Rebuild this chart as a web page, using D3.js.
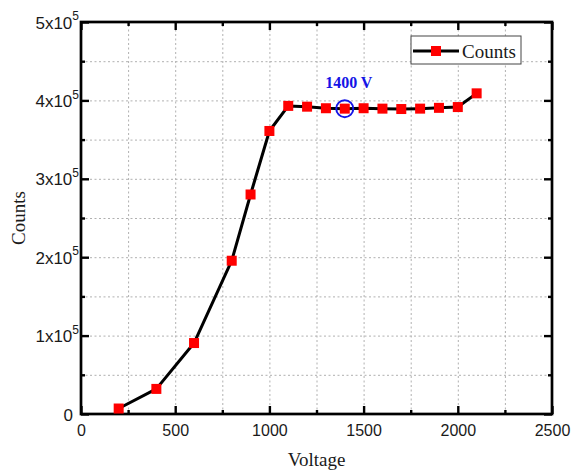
<!DOCTYPE html>
<html>
<head>
<meta charset="utf-8">
<script src="https://cdn.jsdelivr.net/npm/d3@7"></script>
<style>
  html, body { margin: 0; padding: 0; background: #fff; }
  svg { display: block; }
  .grid line { stroke: #b0b0b0; stroke-width: 1; stroke-dasharray: 2,2.5; }
  .grid path { display: none; }
  .ax path { display: none; }
  .ax line { stroke: #000; stroke-width: 2.4; }
  .ax text { font-family: "Liberation Sans", Arial, sans-serif; font-size: 16px; fill: #1a1a1a; }
  .ylab text { font-size: 17px; }
</style>
</head>
<body>
<svg id="chart" width="571" height="472"></svg>
<script>
// Measured counts versus applied voltage
const voltages = [200, 400, 600, 800, 900, 1000, 1100, 1200, 1300, 1400, 1500, 1600, 1700, 1800, 1900, 2000, 2100];
const counts   = [7000, 32000, 90500, 195500, 280000, 361000, 393000, 392000, 390000, 389500, 390000, 389500, 389000, 389500, 390500, 391500, 409000];

const xMajorTicks = [0, 500, 1000, 1500, 2000, 2500];
const xMinorTicks = [250, 750, 1250, 1750, 2250];
const yMajorTicks = [0, 100000, 200000, 300000, 400000, 500000];
const yMinorTicks = [50000, 150000, 250000, 350000, 450000];
const yTickLabels = [["0", ""], ["1x10", "5"], ["2x10", "5"], ["3x10", "5"], ["4x10", "5"], ["5x10", "5"]];

const highlightVoltage = 1400;
const highlightLabel = "1400 V";
const seriesName = "Counts";

const svg = d3.select("#chart");
const pL = 81, pR = 552, pT = 22, pB = 414;

const x = d3.scaleLinear().domain([0, 2500]).range([pL, pR]);
const y = d3.scaleLinear().domain([0, 500000]).range([pB, pT]);

// dotted grid at every major and minor tick
const gridX = [...xMajorTicks, ...xMinorTicks].filter(v => v > 0 && v < 2500);
const gridY = [...yMajorTicks, ...yMinorTicks].filter(v => v > 0 && v < 500000);
svg.append("g").attr("class", "grid")
  .attr("transform", `translate(0,${pB})`)
  .call(d3.axisBottom(x).tickValues(gridX).tickSize(-(pB - pT)).tickFormat(""));
svg.append("g").attr("class", "grid")
  .attr("transform", `translate(${pL},0)`)
  .call(d3.axisLeft(y).tickValues(gridY).tickSize(-(pR - pL)).tickFormat(""));

// bottom axis: inward ticks with labels
svg.append("g").attr("class", "ax")
  .attr("transform", `translate(0,${pB})`)
  .call(d3.axisBottom(x).tickValues(xMajorTicks).tickSize(-8).tickPadding(11).tickFormat(d3.format("d")));
svg.append("g").attr("class", "ax")
  .attr("transform", `translate(0,${pB})`)
  .call(d3.axisBottom(x).tickValues(xMinorTicks).tickSize(-4).tickFormat(""));

// top axis: ticks only
svg.append("g").attr("class", "ax")
  .attr("transform", `translate(0,${pT})`)
  .call(d3.axisTop(x).tickValues(xMajorTicks).tickSize(-8).tickFormat(""));
svg.append("g").attr("class", "ax")
  .attr("transform", `translate(0,${pT})`)
  .call(d3.axisTop(x).tickValues(xMinorTicks).tickSize(-4).tickFormat(""));

// left axis with scientific labels
const yAxisG = svg.append("g").attr("class", "ax ylab")
  .attr("transform", `translate(${pL},0)`)
  .call(d3.axisLeft(y).tickValues(yMajorTicks).tickSize(-8).tickPadding(2).tickFormat(""));
yAxisG.selectAll(".tick text").each(function(d, i) {
  const t = d3.select(this).attr("dy", "0.36em");
  const [base, sup] = yTickLabels[i];
  t.append("tspan").text(base);
  if (sup) t.append("tspan").attr("font-size", "12px").attr("dy", "-0.7em").text(sup);
  else t.attr("dx", -6);
});
svg.append("g").attr("class", "ax")
  .attr("transform", `translate(${pL},0)`)
  .call(d3.axisLeft(y).tickValues(yMinorTicks).tickSize(-4).tickFormat(""));

// right axis: ticks only
svg.append("g").attr("class", "ax")
  .attr("transform", `translate(${pR},0)`)
  .call(d3.axisRight(y).tickValues(yMajorTicks).tickSize(-8).tickFormat(""));
svg.append("g").attr("class", "ax")
  .attr("transform", `translate(${pR},0)`)
  .call(d3.axisRight(y).tickValues(yMinorTicks).tickSize(-4).tickFormat(""));

// frame
svg.append("rect")
  .attr("x", pL).attr("y", pT)
  .attr("width", pR - pL).attr("height", pB - pT)
  .attr("fill", "none").attr("stroke", "#000").attr("stroke-width", 2.7);

// axis titles
svg.append("text")
  .attr("x", (pL + pR) / 2).attr("y", 466)
  .attr("text-anchor", "middle")
  .attr("font-family", "'Liberation Serif', 'Times New Roman', serif")
  .attr("font-size", 19).attr("fill", "#1a1a1a")
  .text("Voltage");
svg.append("text")
  .attr("transform", `translate(25,${(pT + pB) / 2}) rotate(-90)`)
  .attr("text-anchor", "middle")
  .attr("font-family", "'Liberation Serif', 'Times New Roman', serif")
  .attr("font-size", 19).attr("fill", "#1a1a1a")
  .text("Counts");

// data line and markers
const pts = voltages.map((v, i) => [v, counts[i]]);
svg.append("path")
  .datum(pts)
  .attr("fill", "none").attr("stroke", "#000").attr("stroke-width", 3)
  .attr("stroke-linejoin", "round")
  .attr("d", d3.line().x(d => x(d[0])).y(d => y(d[1])));

const ms = 10;
svg.append("g").selectAll("rect")
  .data(pts).join("rect")
  .attr("x", d => x(d[0]) - ms / 2).attr("y", d => y(d[1]) - ms / 2)
  .attr("width", ms).attr("height", ms)
  .attr("fill", "#ff0000");

// highlight of the chosen operating voltage
const hi = voltages.indexOf(highlightVoltage);
svg.append("circle")
  .attr("cx", x(voltages[hi])).attr("cy", y(counts[hi]))
  .attr("r", 8.5)
  .attr("fill", "none").attr("stroke", "#1414e6").attr("stroke-width", 2);
svg.append("text")
  .attr("x", x(voltages[hi]) + 4).attr("y", y(counts[hi]) - 21)
  .attr("text-anchor", "middle")
  .attr("font-family", "'Liberation Serif', 'Times New Roman', serif")
  .attr("font-weight", "bold")
  .attr("font-size", 16).attr("fill", "#1414e6")
  .text(highlightLabel);

// legend
const lg = svg.append("g");
lg.append("rect")
  .attr("x", 411).attr("y", 36).attr("width", 110).attr("height", 28)
  .attr("fill", "#fff").attr("stroke", "#444").attr("stroke-width", 1);
lg.append("line")
  .attr("x1", 413).attr("x2", 459).attr("y1", 51).attr("y2", 51)
  .attr("stroke", "#000").attr("stroke-width", 3);
lg.append("rect")
  .attr("x", 436 - ms / 2).attr("y", 51 - ms / 2)
  .attr("width", ms).attr("height", ms).attr("fill", "#ff0000");
lg.append("text")
  .attr("x", 462).attr("y", 57.5)
  .attr("font-family", "'Liberation Serif', 'Times New Roman', serif")
  .attr("font-size", 19).attr("fill", "#1a1a1a")
  .text(seriesName);
</script>
</body>
</html>
